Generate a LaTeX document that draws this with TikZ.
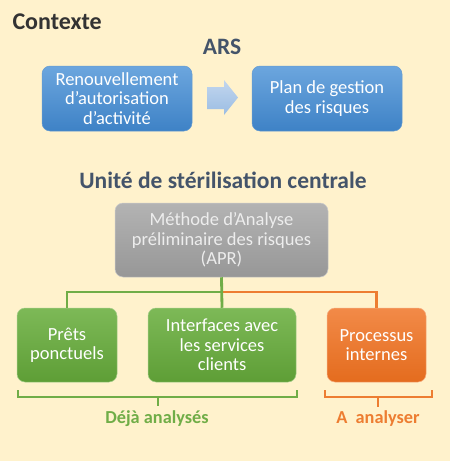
\documentclass[tikz,border=0pt]{standalone}
\usepackage{fontspec}
\setmainfont{Carlito}
\usetikzlibrary{positioning}
\definecolor{bg}{HTML}{FFF2CC}
\definecolor{titlec}{HTML}{333333}
\definecolor{headc}{HTML}{44546A}
\definecolor{bluetop}{HTML}{6CA6DE}
\definecolor{bluebot}{HTML}{3E82C6}
\definecolor{greentop}{HTML}{7DB957}
\definecolor{greenbot}{HTML}{5E9E36}
\definecolor{greenline}{HTML}{70AD47}
\definecolor{orangetop}{HTML}{F28A48}
\definecolor{orangebot}{HTML}{E46C1E}
\definecolor{orangeline}{HTML}{ED7D31}
\definecolor{graytop}{HTML}{B3B3B3}
\definecolor{graybot}{HTML}{979797}
\definecolor{arrtop}{HTML}{C2D6EE}
\definecolor{arrbot}{HTML}{9BBDE3}
\tikzset{
  box/.style={rounded corners=8pt, text=white, align=center, font=\fontsize{18.5}{19.5}\selectfont, inner sep=2pt},
  bluebox/.style={box, top color=bluetop, bottom color=bluebot, draw=bluebot!80!white, line width=0.5pt},
  greenbox/.style={box, top color=greentop, bottom color=greenbot, draw=greentop!70!white, line width=0.5pt},
  orangebox/.style={box, top color=orangetop, bottom color=orangebot, draw=orangetop!70!white, line width=0.5pt},
  graybox/.style={box, top color=graytop, bottom color=graybot, draw=graytop!70!white, line width=0.5pt, text=white!93!black},
  head/.style={font=\bfseries\fontsize{23.5}{27}\selectfont, text=headc},
  gline/.style={draw=greenline, line width=2.8pt},
  oline/.style={draw=orangeline, line width=2.2pt},
  gbrack/.style={draw=greenline, line width=2pt},
  obrack/.style={draw=orangeline, line width=2pt},
}
\begin{document}
\begin{tikzpicture}[x=1pt,y=-1pt]
\fill[bg] (0,0) rectangle (450,461);
\useasboundingbox (0,0) rectangle (450,461);
\node[anchor=west, font=\bfseries\fontsize{24}{28}\selectfont, text=titlec] (ctx) at (9,22) {Contexte};
\node[head] (ars) at (222,47) {ARS};
\node[bluebox, minimum width=150pt, minimum height=65pt] (renouv) at (117,98.5) {Renouvellement\\d’autorisation\\d’activité};
\node[bluebox, minimum width=150pt, minimum height=65pt] (plan) at (327,98.5) {Plan de gestion\\des risques};
\shade[top color=arrtop, bottom color=arrbot] (207,87) -- (224,87) -- (224,80) -- (238,97.5) -- (224,115) -- (224,109) -- (207,109) -- cycle;
\node[head] (usc) at (223,180) {Unité de stérilisation centrale};
\node[graybox, minimum width=213pt, minimum height=74pt] (apr) at (221.5,240) {Méthode d'Analyse\\préliminaire des risques\\(APR)};
\node[greenbox, minimum width=100pt, minimum height=74pt] (pret) at (67,345) {Prêts\\ponctuels};
\node[greenbox, minimum width=148pt, minimum height=74pt] (inter) at (222,345) {Interfaces avec\\les services\\clients};
\node[orangebox, minimum width=99pt, minimum height=74pt] (proc) at (376.5,345) {Processus\\internes};
\coordinate (jn) at (222,292);
\draw[oline] (jn) -| (proc.north);
\draw[gline] (apr.south) -- (inter.north);
\draw[gline] (jn) -| (pret.north);
\draw[gbrack] (18,390) -- (18,397) -- (297,397) -- (297,390);
\draw[gbrack] (158,397) -- (158,406);
\draw[obrack] (325,390) -- (325,397) -- (432,397) -- (432,390);
\draw[obrack] (378,397) -- (378,407);
\node[font=\bfseries\fontsize{18.3}{21}\selectfont, text=greenline] (deja) at (157,419) {Déjà analysés};
\node[font=\bfseries\fontsize{18.3}{21}\selectfont, text=orangeline] (aana) at (378,419) {A\ \ analyser};
\end{tikzpicture}
\end{document}
